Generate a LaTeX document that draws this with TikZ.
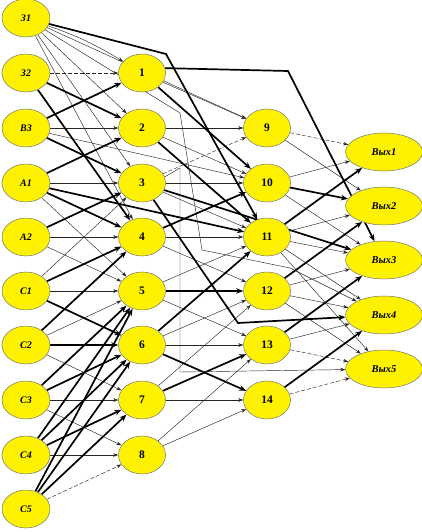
\documentclass[tikz,border=0pt]{standalone}
\usepackage{fontspec}
\setmainfont{Liberation Serif}
\usetikzlibrary{arrows.meta,shapes.geometric}
\pgfdeclarelayer{bg}
\pgfsetlayers{bg,main}
\begin{document}
\begin{tikzpicture}[x=1pt,y=-1pt,
  nbase/.style={ellipse,draw=black!55,line width=0.5pt,fill=yellow,inner sep=0pt,minimum height=38pt},
  inp/.style={nbase,minimum width=48pt,font=\bfseries\itshape\fontsize{10}{12}\selectfont},
  hid/.style={nbase,minimum width=47pt,font=\bfseries\fontsize{11.5}{13}\selectfont},
  outn/.style={nbase,minimum width=77pt,font=\bfseries\itshape\fontsize{10.5}{12}\selectfont},
  tn/.style={-{Stealth[length=5pt,width=3.6pt]},line width=0.45pt,black!85},
  tk/.style={-{Stealth[length=7pt,width=5.5pt]},line width=1.7pt,black},
  ds/.style={tn,dash pattern=on 4pt off 2pt},
]
\useasboundingbox (0,0) rectangle (422,532);
% input column
\node[inp] (Z1) at (26,18)  {З1};
\node[inp] (Z2) at (26,73)  {З2};
\node[inp] (B3) at (26,128) {В3};
\node[inp] (A1) at (26,183) {А1};
\node[inp] (A2) at (26,237) {А2};
\node[inp] (C1) at (26,291) {С1};
\node[inp] (C2) at (26,345) {С2};
\node[inp] (C3) at (26,400) {С3};
\node[inp] (C4) at (26,455) {С4};
\node[inp] (C5) at (26,509) {С5};
% first hidden column
\node[hid] (N1) at (142,73)  {1};
\node[hid] (N2) at (142,128) {2};
\node[hid] (N3) at (142,183) {3};
\node[hid] (N4) at (142,237) {4};
\node[hid] (N5) at (142,291) {5};
\node[hid] (N6) at (142,345) {6};
\node[hid] (N7) at (142,400) {7};
\node[hid] (N8) at (142,455) {8};
% second hidden column
\node[hid] (N9)  at (267,128) {9};
\node[hid] (N10) at (267,183) {10};
\node[hid] (N11) at (267,237) {11};
\node[hid] (N12) at (267,291) {12};
\node[hid] (N13) at (267,345) {13};
\node[hid] (N14) at (267,400) {14};
% outputs
\node[outn] (O1) at (384,152) {Вых1};
\node[outn] (O2) at (384,206) {Вых2};
\node[outn] (O3) at (384,260) {Вых3};
\node[outn] (O4) at (384,315) {Вых4};
\node[outn] (O5) at (384,369) {Вых5};
% bend points
\coordinate (b1) at (166,54);
\coordinate (b2) at (288,71);
\coordinate (b3) at (238,323);
\coordinate (b4) at (180,168);
\coordinate (b5) at (180,372);
\coordinate (p1) at (180,113);
\coordinate (p2) at (202,250);
\coordinate (p3) at (290,268);
\begin{pgfonlayer}{bg}
% thin connectors
\foreach \a/\b in {Z1/N2,Z1/N3,Z1/N4,Z1/N9,B3/N2,B3/N10,A1/N3,A1/N5,A2/N4,A2/N5,
  C1/N3,C1/N5,C2/N5,C2/N7,C3/N7,C3/N8,
  N1/N9,N2/N9,N2/N10,N3/N10,N3/N11,N4/N11,N4/N12,N5/N11,N5/N13,N6/N12,N6/N13,
  N7/N12,N7/N14,N8/N13,N8/N14,
  N9/O2,N10/O1,N10/O3,N11/O2,N11/O3,N11/O4,N11/O5,N12/O3,N12/O4,N12/O5,N13/O4}
  \draw[tn] (\a) -- (\b);
\draw[tn] (Z1) to[bend left=6] (N1);
\draw[tn,line width=0.8pt] (C4) -- (N8);
% dashed connectors
\foreach \a/\b in {Z2/N1,C5/N8,N3/N9,N9/O1,N13/O5,N14/O5}
  \draw[ds] (\a) -- (\b);
% thick connectors
\foreach \a/\b in {Z2/N2,Z2/N4,B3/N1,B3/N3,A1/N2,A1/N4,A1/N11,A2/N3,
  C1/N4,C1/N6,C2/N4,C2/N6,C3/N5,C3/N6,C4/N5,C4/N6,C4/N7,C5/N5,C5/N6,C5/N7,
  N1/N10,N2/N11,N3/O3,N4/N10,N5/N12,N6/N11,N6/N14,N7/N13,
  N10/O2,N11/O1,N12/O2,N13/O3,N14/O4}
  \draw[tk] (\a) -- (\b);
% bent connectors
\draw[tk] (Z1) -- (b1) -- (N11);
\draw[tk] (N1.12) -- (b2) -- (O3);
\draw[tk] (N3) -- (b3) -- (O4);
\draw[tn] (N3.15) -- (b4) -- (b5) -- (O5);
\draw[tn] (Z1) -- (p1) -- (p2) -- (p3) -- (O4);
\end{pgfonlayer}
\end{tikzpicture}
\end{document}
